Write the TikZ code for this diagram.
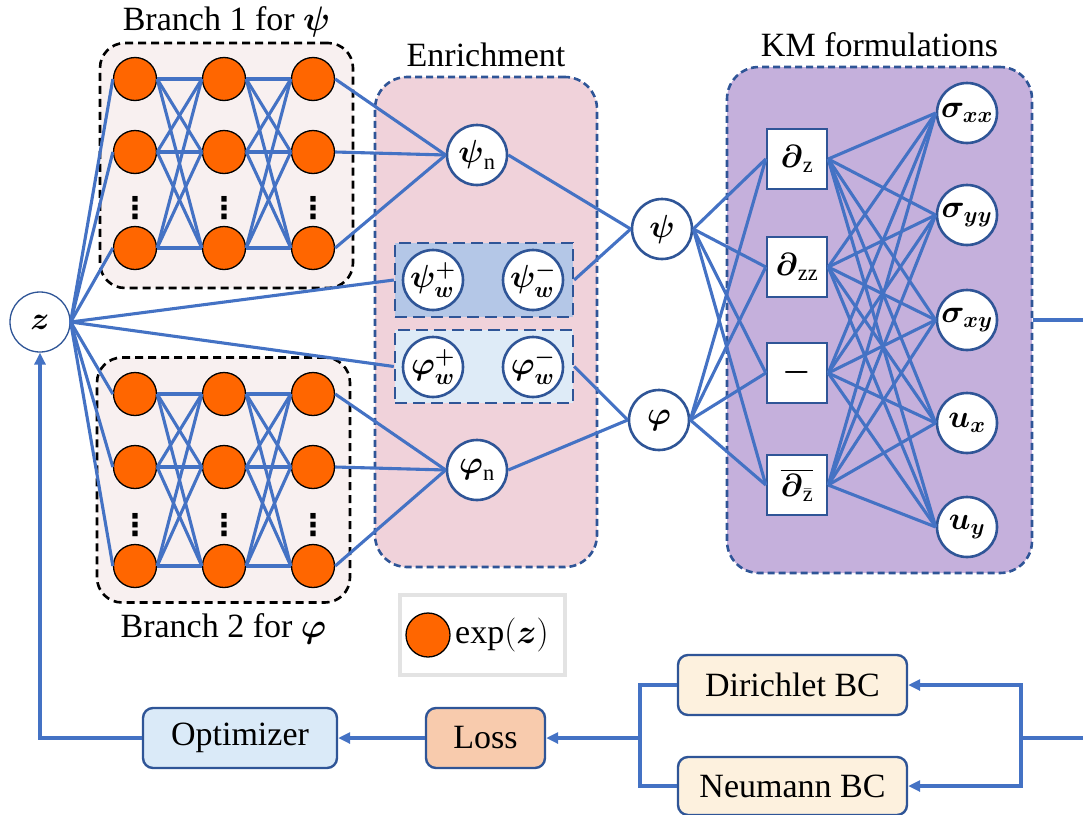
\RequirePackage{fix-cm}
\documentclass[tikz,border=0pt]{standalone}
\usepackage{amsmath,amsfonts}
\usepackage{fontspec}
\setmainfont{Liberation Serif}
\newfontfamily\dotsfont{DejaVu Sans}
\usetikzlibrary{positioning,arrows.meta}

\definecolor{linkblue}{RGB}{68,114,196}
\definecolor{edgeblue}{RGB}{47,85,151}
\definecolor{neuronorange}{RGB}{255,102,0}
\definecolor{branchpink}{RGB}{248,240,240}
\definecolor{enrichpink}{RGB}{240,210,218}
\definecolor{psiblue}{RGB}{180,199,231}
\definecolor{phiblue}{RGB}{222,235,247}
\definecolor{kmpurple}{RGB}{197,176,220}
\definecolor{optblue}{RGB}{218,234,248}
\definecolor{lossorange}{RGB}{248,203,173}
\definecolor{bccream}{RGB}{253,241,222}
\definecolor{legendgray}{RGB}{227,227,227}

\begin{document}
\begin{tikzpicture}[x=1pt,y=-1pt,font=\fontsize{34}{40}\selectfont]
    \tikzstyle{neuron}=[circle,draw=black,line width=1.3pt,fill=neuronorange,minimum size=43pt,inner sep=0pt]
    \tikzstyle{field node}=[circle,draw=edgeblue,line width=2.6pt,fill=white,minimum size=60pt,inner sep=-8pt,font=\fontsize{32}{38}\selectfont]
    \tikzstyle{op node}=[rectangle,draw=edgeblue,line width=2.4pt,fill=white,minimum size=60pt,inner sep=0pt,font=\fontsize{32}{38}\selectfont]
    \tikzstyle{net box}=[rectangle,rounded corners=25pt,draw=black,dash pattern=on 8pt off 5pt,line width=2.6pt,fill=branchpink,minimum width=253pt,minimum height=245pt]
    \tikzstyle{group box}=[rectangle,rounded corners=32pt,draw=edgeblue,dash pattern=on 7pt off 4pt,line width=2.6pt]
    \tikzstyle{pair box}=[rectangle,draw=edgeblue,dash pattern=on 12pt off 6pt,line width=2.4pt,minimum width=178pt,minimum height=74pt]
    \tikzstyle{task box}=[rectangle,rounded corners=10pt,draw=edgeblue,line width=2.4pt,minimum height=60pt,inner sep=0pt]
    \tikzstyle{link}=[draw=linkblue,line width=3.1pt]
    \tikzstyle{flow}=[link,-{Triangle[length=12pt,width=11pt]}]
    \tikzstyle{title}=[inner sep=2pt]
    \tikzstyle{more}=[font=\dotsfont\bfseries\fontsize{30}{30}\selectfont,inner sep=0pt]

    \useasboundingbox (0,0) rectangle (1083,814);

% Boxes
    \node[net box] (BR1) at (226.5,165.5) {};
    \node[net box] (BR2) at (223.5,480) {};
    \node[group box,fill=enrichpink,minimum width=222pt,minimum height=490pt] (EN) at (486,322) {};
    \node[group box,fill=kmpurple,minimum width=305pt,minimum height=506pt] (KM) at (879.5,320) {};
    \node[pair box,fill=psiblue] (PW) at (484,280) {};
    \node[pair box,fill=phiblue,minimum height=73pt] (FW) at (484,366.5) {};

% Box titles
    \node[title,above=2pt of BR1] {Branch 1 for $\boldsymbol{\psi}$};
    \node[title,below=8pt of BR2] {Branch 2 for $\boldsymbol{\varphi}$};
    \node[title,above=7pt of EN] {Enrichment};
    \node[title,above=7pt of KM] {KM formulations};

% Nodes
    % Input node
    \node[field node,line width=1.3pt] (z) at (40,322) {$\boldsymbol{z}$};

    % Branch nodes
    \foreach \c / \x in {1/135,2/224,3/313} {
        \foreach \r / \y in {1/79,2/152,3/248}
            \node[neuron] (B1-\c-\r) at (\x,\y) {};
        \foreach \r / \y in {1/394,2/467,3/566}
            \node[neuron] (B2-\c-\r) at (\x,\y) {};
        \node[more] (M1-\c) at (\x,208) {⋮};
        \node[more] (M2-\c) at (\x,525) {⋮};
    }

    % Enrichment nodes
    \node[field node] (psin) at (477,155) {$\boldsymbol{\psi}_{\mathrm{n}}$};
    \node[field node] (psiwp) at (433,280) {$\boldsymbol{\psi_w^+}$};
    \node[field node] (psiwm) at (533,280) {$\boldsymbol{\psi_w^-}$};
    \node[field node] (phiwp) at (433,367) {$\boldsymbol{\varphi_w^+}$};
    \node[field node] (phiwm) at (533,367) {$\boldsymbol{\varphi_w^-}$};
    \node[field node] (phin) at (477,470) {$\boldsymbol{\varphi}_{\mathrm{n}}$};
    \node[field node] (psi) at (662,229) {$\boldsymbol{\psi}$};
    \node[field node] (phi) at (659,420) {$\boldsymbol{\varphi}$};

    % KM operator nodes
    \foreach \n / \y / \t in {1/159/{$\boldsymbol{\partial}_{\mathrm{z}}$},2/267/{$\boldsymbol{\partial}_{\mathrm{zz}}$},3/373/{\raisebox{6pt}{$\boldsymbol{-}$}},4/485/{$\overline{\boldsymbol{\partial}_{\bar{\mathrm{z}}}}$}}
        \node[op node] (D-\n) at (797,\y) {\t};

    % KM output nodes
    \foreach \n / \y / \t in {1/113/{$\boldsymbol{\sigma_{xx}}$},2/215/{$\boldsymbol{\sigma_{yy}}$},3/320/{$\boldsymbol{\sigma_{xy}}$},4/423/{$\boldsymbol{u_x}$},5/527/{$\boldsymbol{u_y}$}}
        \node[field node] (Q-\n) at (967,\y) {\t};

    % Legend
    \node[rectangle,draw=legendgray,line width=4pt,fill=white,minimum width=165pt,minimum height=80pt] (leg) at (482.5,635) {};
    \node[neuron,minimum size=44pt] (legdot) at (428,635) {};
    \node[right=1pt of legdot] (legtxt) {exp$(\boldsymbol{z})$};

    % Training loop
    \node[task box,fill=optblue,minimum width=194pt] (opt) at (240,738) {Optimizer};
    \node[task box,fill=lossorange,minimum width=119pt] (loss) at (485.5,738) {Loss};
    \node[task box,fill=bccream,minimum width=229pt] (dbc) at (792.5,685) {Dirichlet BC};
    \node[task box,fill=bccream,minimum width=229pt,minimum height=58pt] (nbc) at (792.5,786) {Neumann BC};
    \coordinate (kmout) at (1095,320);
    \coordinate (bcin) at (1095,738);
    \coordinate (split) at (1021,738);
    \coordinate (join) at (640,738);

% Paths

    % Input with branches and enrichment
    \foreach \r in {1,2,3} {
        \draw[link] (z.east) -- (B1-1-\r.west);
        \draw[link] (z.east) -- (B2-1-\r.west);
    }
    \draw[link] (z.east) -- (PW.west);
    \draw[link] (z.east) -- (FW.west);

    % Inside the branches
    \foreach \c / \n in {1/2,2/3}
        \foreach \s in {1,2,3}
            \foreach \d in {1,2,3} {
                \draw[link] (B1-\c-\s.east) -- (B1-\n-\d.west);
                \draw[link] (B2-\c-\s.east) -- (B2-\n-\d.west);
            }

    % Branches with enrichment
    \foreach \r in {1,2,3} {
        \draw[link] (B1-3-\r.east) -- (psin.west);
        \draw[link] (B2-3-\r.east) -- (phin.west);
    }
    \draw[link] (psin.east) -- (psi.west);
    \draw[link] (PW.east) -- (psi.west);
    \draw[link] (FW.east) -- (phi.west);
    \draw[link] (phin.east) -- (phi.west);

    % KM formulations
    \foreach \s in {psi,phi}
        \foreach \d in {1,...,4}
            \draw[link] (\s.east) -- (D-\d.west);
    \foreach \s in {1,...,4}
        \foreach \d in {1,...,5}
            \draw[link] (D-\s.east) -- (Q-\d.west);
    \draw[link] (KM.east) -- (kmout);

    % Training loop
    \draw[link] (bcin) -- (split);
    \draw[flow] (split) |- (dbc.east);
    \draw[flow] (split) |- (nbc.east);
    \draw[link] (dbc.west) -| (join);
    \draw[link] (nbc.west) -| (join);
    \draw[flow] (join) -- (loss.east);
    \draw[flow] (loss.west) -- (opt.east);
    \draw[flow] (opt.west) -| (z.south);

\end{tikzpicture}
\end{document}
